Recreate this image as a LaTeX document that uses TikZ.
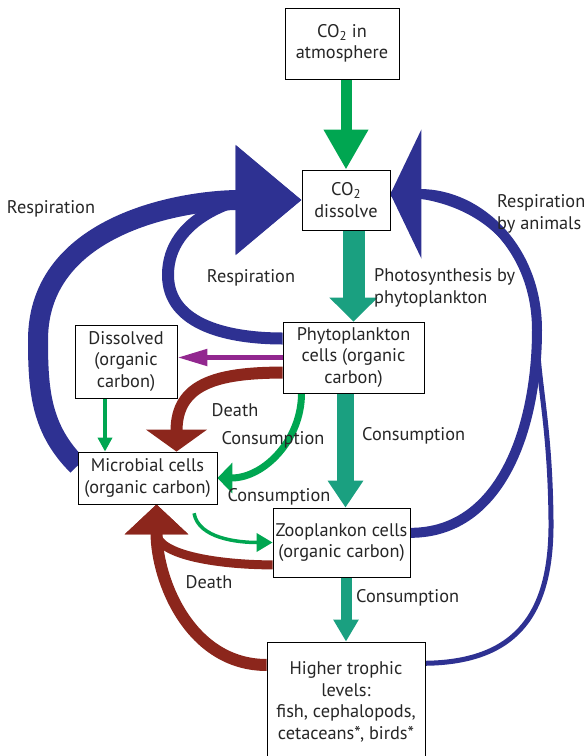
\documentclass[tikz,border=0pt]{standalone}
\usepackage{fontspec}
\setmainfont{PT Sans}
\usetikzlibrary{arrows.meta,backgrounds}

\definecolor{resblue}{RGB}{46,49,146}
\definecolor{airgreen}{RGB}{0,166,81}
\definecolor{phogreen}{RGB}{26,160,128}
\definecolor{deathred}{RGB}{140,38,28}
\definecolor{dompurple}{RGB}{146,39,143}

\begin{document}
\begin{tikzpicture}[x=1pt,y=-1pt,font=\fontsize{18.3}{21.5}\selectfont,text=black!85,
  box/.style={draw,line width=0.8pt,fill=white,align=center,inner sep=0pt},
  lbl/.style={inner sep=0pt}]
\useasboundingbox (0,0) rectangle (587,756);
% pools of carbon
\node[box,minimum width=114pt,minimum height=71pt] (atm) at (342,43.5) {CO\textsubscript{2} in\\atmosphere};
\node[box,minimum width=88pt,minimum height=60pt] (dis) at (346,200) {CO\textsubscript{2}\\dissolve};
\node[box,minimum width=141pt,minimum height=71pt] (phy) at (353.5,357.5) {Phytoplankton\\cells (organic\\carbon)};
\node[box,minimum width=102pt,minimum height=73pt] (dso) at (126,361.5) {Dissolved\\(organic\\carbon)};
\node[box,minimum width=139pt,minimum height=52pt] (micro) at (147.5,478) {Microbial cells\\(organic carbon)};
\node[box,minimum width=137pt,minimum height=69pt] (zoo) at (341.5,542.5) {Zooplankon cells\\(organic carbon)};
\node[box,minimum width=158pt,minimum height=120pt] (high) at (346,702) {Higher trophic\\levels:\\fish, cephalopods,\\cetaceans*, birds*};
% labels
\node[lbl] (resp1) at (51,209) {Respiration};
\node[lbl] (resp2) at (251,278) {Respiration};
\node[lbl,anchor=west,align=left] (photo) at (374,288) {Photosynthesis by\\phytoplankton};
\node[lbl,anchor=west,align=left] (respan) at (497,214) {Respiration\\by animals};
\node[lbl] (death1) at (235,410) {Death};
\node[lbl] (cons1) at (273,440) {Consumption};
\node[lbl,anchor=west] (cons2) at (362,436) {Consumption};
\node[lbl] (cons3) at (279,497) {Consumption};
\node[lbl] (death2) at (209,582) {Death};
\node[lbl,anchor=west] (cons4) at (356,598) {Consumption};
\coordinate (join) at (537,330);
\coordinate (dsoout) at ([xshift=-21pt]dso.south);
\coordinate (zooin) at ([xshift=4pt]zoo.north);

\begin{scope}[on background layer]
% respiration
\draw[resblue,line width=20pt,-{Triangle[length=66pt,width=106pt]}]
  (micro.170) to[out=135,in=270] (38,340) to[out=90,in=180] (dis.west);
\draw[resblue,line width=12pt,-{Triangle[length=66pt,width=106pt]}]
  (phy.165) to[out=180,in=270] (168,275) to[out=90,in=180] (dis.west);
\draw[resblue,line width=5pt]
  (high.26) .. controls (520,662) and (552,610) .. (551,520)
  .. controls (550,420) and (537,380) .. (join)
  .. controls (537,250) and (480,194) .. ([yshift=6pt]dis.east);
\draw[resblue,line width=10pt,-{Triangle[length=31pt,width=128pt]}]
  (zoo.8) to[out=0,in=270] (join)
  .. controls (537,250) and (480,194) .. ([yshift=6pt]dis.east);
% uptake and consumption
\draw[airgreen,line width=11pt,-{Triangle[length=40pt,width=42pt]}] (dis.north |- atm.south) -- (dis.north);
\draw[phogreen,line width=22pt,-{Triangle[length=24pt,width=47pt]}] (phy.north |- dis.south) -- (phy.north);
\draw[phogreen,line width=17pt,-{Triangle[length=27pt,width=34pt]}] (zooin |- phy.south) -- (zooin);
\draw[phogreen,line width=11pt,-{Triangle[length=22pt,width=24pt]}] (high.north |- zoo.south) -- (high.north);
\draw[airgreen,line width=7pt,-{Triangle[length=15pt,width=30pt]}]
  ([xshift=-52pt]phy.south) to[out=270,in=0] (micro.east);
\draw[airgreen,line width=3.5pt,-{Triangle[length=14pt,width=14pt]}] (dsoout) -- (dsoout |- micro.north);
\draw[airgreen,line width=3.5pt,shorten <=9pt,-{Triangle[length=16pt,width=18pt]}]
  ([xshift=45pt]micro.south) to[out=280,in=180] (zoo.west);
\draw[dompurple,line width=5pt,-{Triangle[length=30pt,width=16pt]}] (phy.west) -- (phy.west -| dso.east);
% death
\draw[deathred,line width=12pt,-{Triangle[length=22pt,width=60pt]}]
  (phy.192) to[out=180,in=90,looseness=1.3] ([xshift=29pt]micro.north);
\draw[deathred,line width=9pt,-{Triangle[length=30pt,width=62pt]}]
  (zoo.198) to[out=180,in=270] ([xshift=9pt]micro.south);
\draw[deathred,line width=12pt,-{Triangle[length=30pt,width=62pt]}]
  (high.155) to[out=180,in=270] ([xshift=9pt]micro.south);
\end{scope}
\end{tikzpicture}
\end{document}
